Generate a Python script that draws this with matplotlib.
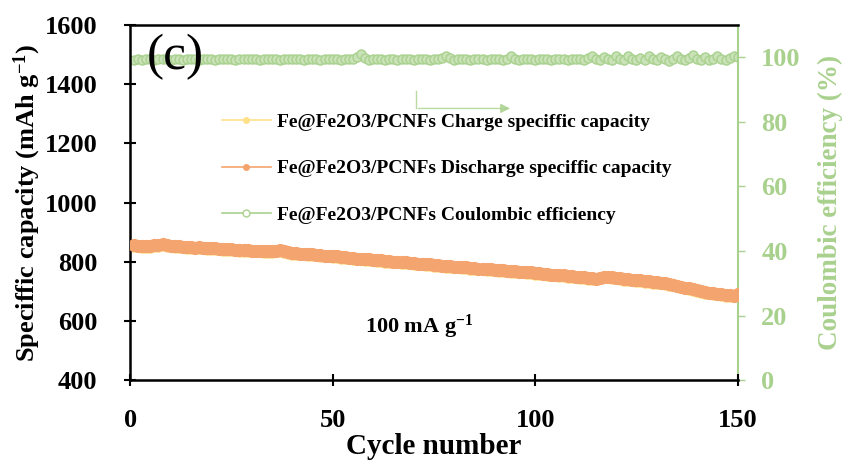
import matplotlib
matplotlib.use("Agg")
import matplotlib.pyplot as plt
from matplotlib.lines import Line2D

plt.rcParams['font.family'] = ['Liberation Serif', 'DejaVu Serif']
plt.rcParams['font.weight'] = 'bold'
plt.rcParams['mathtext.fontset'] = 'custom'
plt.rcParams['mathtext.rm'] = 'Liberation Serif:bold'
plt.rcParams['mathtext.bf'] = 'Liberation Serif:bold'
plt.rcParams['mathtext.it'] = 'Liberation Serif:bold:italic'

cycles = list(range(1, 151))

discharge = [
    856, 855, 853, 854, 852, 856, 858, 860, 857, 855,
    853, 852, 851, 850, 849, 848, 849, 847, 846, 845,
    846, 844, 843, 842, 843, 841, 840, 839, 840, 838,
    837, 838, 836, 835, 836, 838, 840, 837, 833, 830,
    829, 828, 827, 826, 825, 824, 822, 821, 820, 819,
    818, 816, 815, 814, 812, 811, 810, 809, 808, 807,
    806, 805, 803, 802, 801, 800, 799, 798, 797, 795,
    794, 793, 792, 791, 789, 788, 787, 786, 785, 784,
    783, 782, 781, 779, 778, 777, 776, 775, 774, 773,
    772, 771, 770, 769, 768, 767, 766, 765, 764, 762,
    761, 760, 759, 757, 756, 755, 754, 752, 751, 750,
    748, 747, 745, 744, 743, 746, 749, 750, 748, 746,
    744, 742, 741, 739, 738, 737, 735, 734, 732, 731,
    729, 727, 725, 722, 719, 716, 713, 710, 707, 704,
    701, 698, 696, 694, 692, 690, 688, 687, 686, 690,
]

charge = [
    853, 852, 851, 851, 850, 853, 855, 857, 854, 852,
    851, 850, 849, 848, 847, 846, 846, 845, 844, 843,
    843, 842, 841, 840, 840, 839, 838, 837, 837, 836,
    835, 835, 834, 833, 834, 835, 837, 834, 831, 828,
    827, 826, 825, 824, 823, 822, 820, 819, 818, 817,
    816, 814, 813, 812, 810, 809, 808, 807, 806, 805,
    804, 803, 801, 800, 799, 798, 797, 796, 795, 793,
    792, 791, 790, 789, 787, 786, 785, 784, 783, 782,
    781, 780, 779, 777, 776, 775, 774, 773, 772, 771,
    770, 769, 768, 767, 766, 765, 764, 763, 762, 760,
    759, 758, 757, 755, 754, 753, 752, 750, 749, 748,
    746, 745, 743, 742, 741, 744, 747, 748, 746, 744,
    742, 740, 739, 737, 736, 735, 733, 732, 730, 729,
    727, 725, 723, 720, 717, 714, 711, 708, 705, 702,
    699, 696, 694, 692, 690, 688, 686, 685, 684, 688,
]

efficiency = [
    99.2, 99.4, 99.3, 99.5, 99.4, 99.3, 99.5, 99.4, 99.6, 99.3,
    99.4, 99.5, 99.3, 99.4, 99.6, 99.4, 99.3, 99.5, 99.4, 99.5,
    99.3, 99.4, 99.6, 99.5, 99.4, 99.3, 99.5, 99.4, 99.6, 99.4,
    99.5, 99.3, 99.4, 99.6, 99.5, 99.4, 99.3, 99.5, 99.4, 99.6,
    99.4, 99.5, 99.3, 99.6, 99.4, 99.5, 99.3, 99.4, 99.6, 99.5,
    99.4, 99.3, 99.5, 99.4, 99.6, 100.2, 101.0, 99.8, 99.3, 99.5,
    99.4, 99.6, 99.3, 99.5, 99.4, 99.2, 99.5, 99.6, 99.4, 99.3,
    99.5, 99.4, 99.6, 99.3, 99.5, 99.4, 99.7, 100.4, 99.8, 99.3,
    99.5, 99.4, 99.6, 99.3, 99.5, 99.4, 99.6, 99.3, 99.5, 99.4,
    99.6, 99.3, 99.5, 100.3, 99.6, 99.3, 99.5, 99.4, 99.6, 99.3,
    99.5, 99.4, 99.6, 99.3, 99.5, 99.4, 99.6, 99.3, 99.5, 99.4,
    99.6, 99.2, 99.8, 100.4, 99.6, 99.1, 100.2, 99.5, 99.2, 100.3,
    99.6, 99.1, 100.5, 99.4, 99.2, 99.9, 99.3, 100.4, 99.5, 99.2,
    100.2, 99.4, 98.9, 99.6, 100.3, 99.5, 99.1, 99.8, 100.6, 99.4,
    99.3, 100.2, 99.0, 99.5, 100.4, 99.6, 99.3, 99.8, 100.5, 100.2,
]

labels = [
    'Fe@Fe2O3/PCNFs Charge speciffic capacity',
    'Fe@Fe2O3/PCNFs Discharge speciffic capacity',
    'Fe@Fe2O3/PCNFs Coulombic efficiency',
]

c_charge = '#FFE08A'
c_dis = '#F4A46E'
c_ce = '#A9D18E'
c_ce_face = '#C9E2B8'
c_green_text = '#A9D18E'

fig = plt.figure(figsize=(8.45, 4.62), dpi=100)
ax = fig.add_axes([0.154, 0.177, 0.719, 0.769])
ax2 = ax.twinx()

ax.plot(cycles, charge, 'o-', color=c_charge, ms=8, lw=1, zorder=2)
ax.plot(cycles, discharge, 'o-', color=c_dis, ms=8.5, lw=1, zorder=3)
ax2.plot(cycles, efficiency, 'o-', color=c_ce, mfc=c_ce_face, mec=c_ce,
         ms=6.5, mew=1, lw=1)

ax.set_xlim(0, 150)
ax.set_ylim(400, 1600)
ax2.set_ylim(0, 110)
ax.set_xticks([0, 50, 100, 150])
ax.set_yticks([400, 600, 800, 1000, 1200, 1400, 1600])
ax2.set_yticks([0, 20, 40, 60, 80, 100])

ax.tick_params(axis='both', direction='inout', length=9, width=1.5,
               labelsize=19, colors='black')
ax.tick_params(axis='y', pad=19)
ax.tick_params(axis='x', pad=16)
ax2.tick_params(axis='y', direction='out', length=5, width=1,
                labelsize=19, colors=c_green_text, pad=12)

for s in ['left', 'top', 'bottom']:
    ax.spines[s].set_linewidth(1.8)
ax.spines['right'].set_visible(False)
ax2.spines['right'].set_color(c_ce)
ax2.spines['right'].set_linewidth(1.5)
for s in ['left', 'top', 'bottom']:
    ax2.spines[s].set_visible(False)

for lab in ax.get_xticklabels() + ax.get_yticklabels():
    lab.set_fontweight('bold')
for lab in ax2.get_yticklabels():
    lab.set_fontweight('bold')

ax.set_xlabel('Cycle number', fontsize=21, fontweight='bold', labelpad=1)
ax.set_ylabel('Speciffic capacity (mAh g$^{-1}$)', fontsize=19,
              fontweight='bold', labelpad=1)
ax2.set_ylabel('Coulombic efficiency (%)', fontsize=19.5, fontweight='bold',
               color=c_green_text, labelpad=12)

ax.text(0.028, 0.975, '(c)', transform=ax.transAxes, fontsize=37,
        fontweight='normal', va='top', ha='left', zorder=6)
ax.text(0.387, 0.15, '100 mA g$^{-1}$', transform=ax.transAxes,
        fontsize=16, fontweight='bold', ha='left', va='center')

# arrow pointing to right axis
ax.plot([0.47, 0.47], [0.815, 0.765], transform=ax.transAxes,
        color=c_ce, lw=1, alpha=0.8)
ax.annotate('', xy=(0.63, 0.765), xytext=(0.47, 0.765),
            xycoords='axes fraction', textcoords='axes fraction',
            arrowprops=dict(arrowstyle='-|>', color=c_ce, lw=1,
                            mutation_scale=14, alpha=0.8))

handles = [
    Line2D([], [], color=c_charge, marker='o', ms=4, lw=1.2),
    Line2D([], [], color=c_dis, marker='o', ms=4, lw=1.2),
    Line2D([], [], color=c_ce, marker='o', ms=5, mfc='white', lw=1.2),
]
ax.legend(handles, labels, loc='upper left', bbox_to_anchor=(0.1225, 0.8),
          frameon=False, prop={'family': 'Liberation Serif', 'weight': 'bold',
                               'size': 14},
          labelspacing=1.47, handlelength=2.5, handletextpad=0.35)

ax.set_zorder(ax2.get_zorder() + 1)
ax.patch.set_visible(False)

fig.savefig('out.png', dpi=100)
